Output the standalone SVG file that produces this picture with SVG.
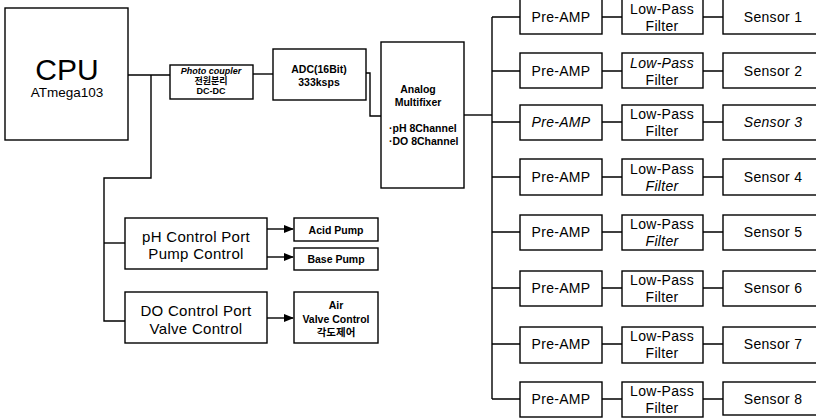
<svg xmlns="http://www.w3.org/2000/svg" width="816" height="420" viewBox="0 0 816 420">
<defs>
<style>
.box{fill:#fff;stroke:#000;stroke-width:1.4}
.ln{fill:none;stroke:#000;stroke-width:1.4}
text{font-family:"Liberation Sans","Noto Sans CJK KR",Arial,sans-serif;fill:#000;text-anchor:middle}
.sm{font-size:9px;font-weight:bold}
.sb{font-size:10.5px;font-weight:bold}
.md{font-size:14px;letter-spacing:0.3px}
.lg{font-size:15px;letter-spacing:0.3px}
</style>
<marker id="ah" markerWidth="10" markerHeight="8" refX="9" refY="4" orient="auto" markerUnits="userSpaceOnUse">
<path d="M0,0 L10,4 L0,8 Z" fill="#000"/>
</marker>
</defs>
<rect width="816" height="420" fill="#fff"/>
<g id="connectors">
<path class="ln" d="M128,75 H170"/>
<path class="ln" d="M151,75 V178 H104 V321 H125"/>
<path class="ln" d="M104,243 H125"/>
<path class="ln" d="M253,74 H273"/>
<path class="ln" d="M366,73 H370 V116 H381"/>
<path class="ln" d="M464,115 H492"/>
<path class="ln" d="M492,17 V399"/>
<path class="ln" d="M492,17 H520 M492,71 H520 M492,122 H520 M492,177 H520 M492,232 H520 M492,288 H520 M492,344 H520 M492,399 H520"/>
<path class="ln" d="M602,17 H622 M602,71 H622 M602,122 H622 M602,177 H622 M602,232 H622 M602,288 H622 M602,344 H622 M602,399 H622"/>
<path class="ln" d="M703,17 H723 M703,71 H723 M703,122 H723 M703,177 H723 M703,232 H723 M703,288 H723 M703,344 H723 M703,399 H723"/>
<path class="ln" d="M267,229 H293" marker-end="url(#ah)"/>
<path class="ln" d="M267,257 H293" marker-end="url(#ah)"/>
<path class="ln" d="M267,318 H293" marker-end="url(#ah)"/>
</g>
<g id="cpu">
<rect class="box" x="5" y="8" width="123" height="132"/>
<text x="67" y="80" style="font-size:30px">CPU</text>
<text x="67" y="97" style="font-size:13.5px">ATmega103</text>
</g>
<g id="photocoupler">
<rect class="box" x="170" y="65" width="83" height="34"/>
<text x="211" y="74" class="sm" style="font-style:italic">Photo coupler</text>
<text x="211" y="84" class="sm">전원분리</text>
<text x="211" y="94" class="sm">DC-DC</text>
</g>
<g id="adc">
<rect class="box" x="273" y="49" width="93" height="51"/>
<text x="319" y="73" class="sb">ADC(16Bit)</text>
<text x="319" y="86" class="sb">333ksps</text>
</g>
<g id="mux">
<rect class="box" x="381" y="42" width="83" height="146"/>
<text x="418" y="93" class="sb">Analog</text>
<text x="418" y="106" class="sb">Multifixer</text>
<text x="389" y="132" class="sb" style="text-anchor:start">·pH 8Channel</text>
<text x="389" y="145" class="sb" style="text-anchor:start">·DO 8Channel</text>
</g>
<g id="ph-control">
<rect class="box" x="125" y="218" width="142" height="51"/>
<text x="196" y="242" class="lg">pH Control Port</text>
<text x="196" y="259" class="lg">Pump Control</text>
</g>
<g id="do-control">
<rect class="box" x="125" y="292" width="142" height="51"/>
<text x="196" y="316" class="lg">DO Control Port</text>
<text x="196" y="334" class="lg">Valve Control</text>
</g>
<g id="acid-pump">
<rect class="box" x="294" y="218" width="84" height="23"/>
<text x="336" y="234" class="sb">Acid Pump</text>
</g>
<g id="base-pump">
<rect class="box" x="294" y="248" width="84" height="22"/>
<text x="336" y="263" class="sb">Base Pump</text>
</g>
<g id="air-valve">
<rect class="box" x="294" y="292" width="84" height="51"/>
<text x="336" y="309" class="sb">Air</text>
<text x="336" y="323" class="sb">Valve Control</text>
<text x="336" y="336" class="sb">각도제어</text>
</g>
<g id="row1"><rect class="box" x="520" y="-1" width="82" height="35"/><text x="561" y="22" class="md">Pre-AMP</text><rect class="box" x="622" y="-1" width="81" height="35"/><text x="662" y="14" class="md">Low-Pass</text><text x="662" y="31" class="md">Filter</text><rect class="box" x="723" y="-1" width="100" height="35"/><text x="773" y="22" class="md">Sensor 1</text></g>
<g id="row2"><rect class="box" x="520" y="53" width="82" height="35"/><text x="561" y="76" class="md">Pre-AMP</text><rect class="box" x="622" y="53" width="81" height="35"/><text x="662" y="68" class="md" style="font-style:italic">Low-Pass</text><text x="662" y="85" class="md">Filter</text><rect class="box" x="723" y="53" width="100" height="35"/><text x="773" y="76" class="md">Sensor 2</text></g>
<g id="row3"><rect class="box" x="520" y="105" width="82" height="35"/><text x="561" y="127" class="md" style="font-style:italic">Pre-AMP</text><rect class="box" x="622" y="105" width="81" height="35"/><text x="662" y="119" class="md">Low-Pass</text><text x="662" y="136" class="md">Filter</text><rect class="box" x="723" y="105" width="100" height="35"/><text x="773" y="127" class="md" style="font-style:italic">Sensor 3</text></g>
<g id="row4"><rect class="box" x="520" y="159" width="82" height="36"/><text x="561" y="182" class="md">Pre-AMP</text><rect class="box" x="622" y="159" width="81" height="36"/><text x="662" y="174" class="md">Low-Pass</text><text x="662" y="191" class="md" style="font-style:italic">Filter</text><rect class="box" x="723" y="159" width="100" height="36"/><text x="773" y="182" class="md">Sensor 4</text></g>
<g id="row5"><rect class="box" x="520" y="215" width="82" height="35"/><text x="561" y="237" class="md">Pre-AMP</text><rect class="box" x="622" y="215" width="81" height="35"/><text x="662" y="229" class="md">Low-Pass</text><text x="662" y="246" class="md" style="font-style:italic">Filter</text><rect class="box" x="723" y="215" width="100" height="35"/><text x="773" y="237" class="md">Sensor 5</text></g>
<g id="row6"><rect class="box" x="520" y="271" width="82" height="35"/><text x="561" y="293" class="md">Pre-AMP</text><rect class="box" x="622" y="271" width="81" height="35"/><text x="662" y="285" class="md">Low-Pass</text><text x="662" y="302" class="md">Filter</text><rect class="box" x="723" y="271" width="100" height="35"/><text x="773" y="293" class="md">Sensor 6</text></g>
<g id="row7"><rect class="box" x="520" y="327" width="82" height="36"/><text x="561" y="349" class="md">Pre-AMP</text><rect class="box" x="622" y="327" width="81" height="36"/><text x="662" y="341" class="md">Low-Pass</text><text x="662" y="358" class="md">Filter</text><rect class="box" x="723" y="327" width="100" height="36"/><text x="773" y="349" class="md">Sensor 7</text></g>
<g id="row8"><rect class="box" x="520" y="382" width="82" height="35"/><text x="561" y="404" class="md">Pre-AMP</text><rect class="box" x="622" y="382" width="81" height="35"/><text x="662" y="396" class="md">Low-Pass</text><text x="662" y="413" class="md">Filter</text><rect class="box" x="723" y="382" width="100" height="33"/><text x="773" y="404" class="md">Sensor 8</text></g>
</svg>
